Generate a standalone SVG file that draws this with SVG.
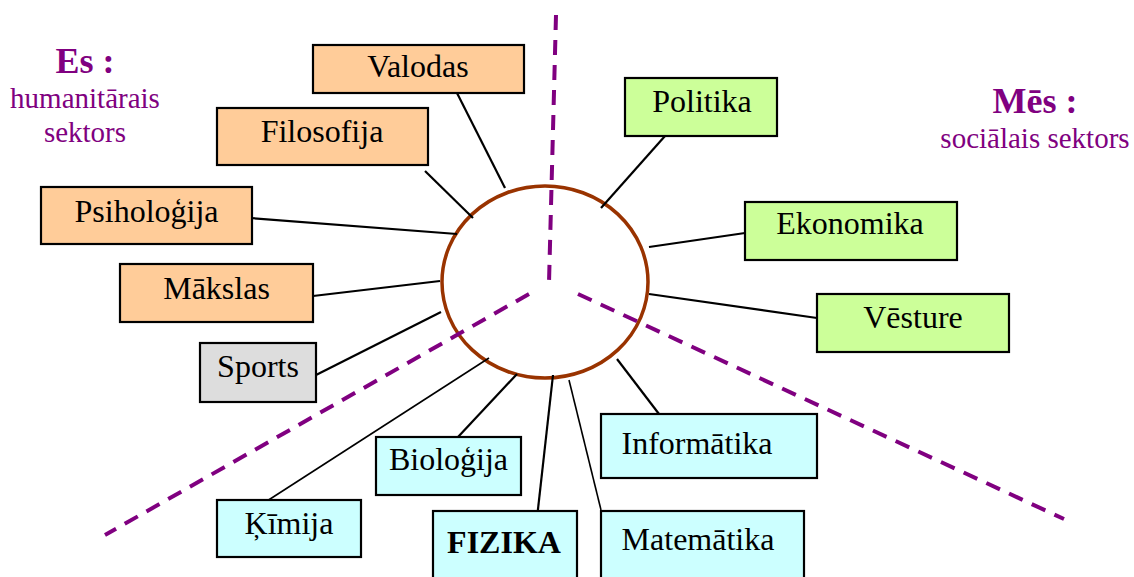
<svg xmlns="http://www.w3.org/2000/svg" width="1134" height="577" viewBox="0 0 1134 577">
<style>
.box{stroke:#000;stroke-width:2.2}
.o{fill:#FFCC99}.g{fill:#CCFF99}.c{fill:#CCFFFF}.s{fill:#DDDDDD}
.lbl{font-family:"Liberation Serif","Times New Roman",serif;font-size:32px;fill:#000;text-anchor:middle}
.b{font-weight:bold}
.ttl{font-family:"Liberation Serif","Times New Roman",serif;font-size:36px;font-weight:bold;fill:#800080;text-anchor:middle}
.sub{font-family:"Liberation Serif","Times New Roman",serif;font-size:29px;fill:#800080;text-anchor:middle}
.conn line{stroke:#000;stroke-width:2.2}
.dash line{stroke:#800080;stroke-width:4;stroke-dasharray:15 10;fill:none}
</style>
<rect width="1134" height="577" fill="#fff"/>
<g id="center">
<ellipse cx="545" cy="282" rx="103" ry="96" fill="none" stroke="#993300" stroke-width="3.5"/>
</g>
<g id="connectors" class="conn">
<line x1="457" y1="93" x2="505" y2="188"/>
<line x1="425" y1="171" x2="473" y2="218"/>
<line x1="250" y1="218" x2="457" y2="234"/>
<line x1="313" y1="296" x2="440" y2="281"/>
<line x1="316" y1="375" x2="441" y2="312"/>
<line x1="267" y1="501" x2="489" y2="358" style="stroke-width:1.6"/>
<line x1="458" y1="437" x2="517" y2="374"/>
<line x1="537" y1="518" x2="553" y2="375"/>
<line x1="601" y1="510" x2="569" y2="380" style="stroke-width:1.6"/>
<line x1="659" y1="414" x2="617" y2="359"/>
<line x1="673" y1="127" x2="601" y2="208"/>
<line x1="745" y1="233" x2="649" y2="247"/>
<line x1="817" y1="318" x2="649" y2="294"/>
</g>
<g id="dividers" class="dash">
<line x1="556" y1="15" x2="549" y2="283"/>
<line x1="529" y1="294" x2="105" y2="535"/>
<line x1="578" y1="294" x2="1064" y2="519"/>
</g>
<g id="title-es">
<text class="ttl" x="85" y="73">Es :</text>
<text class="sub" x="85" y="108">humanitārais</text>
<text class="sub" x="85" y="142">sektors</text>
</g>
<g id="title-mes">
<text class="ttl" x="1035" y="113">Mēs :</text>
<text class="sub" x="1035" y="148">sociālais sektors</text>
</g>
<g id="valodas"><rect class="box o" x="313" y="45" width="211" height="48"/><text class="lbl" x="418" y="77">Valodas</text></g>
<g id="filosofija"><rect class="box o" x="217" y="108" width="211" height="57"/><text class="lbl" x="322" y="142">Filosofija</text></g>
<g id="psihologija"><rect class="box o" x="41" y="187" width="211" height="57"/><text class="lbl" x="146.5" y="222">Psiholoģija</text></g>
<g id="makslas"><rect class="box o" x="120" y="264" width="193" height="58"/><text class="lbl" x="216.5" y="299">Mākslas</text></g>
<g id="sports"><rect class="box s" x="200" y="343" width="116" height="59"/><text class="lbl" x="258" y="377">Sports</text></g>
<g id="kimija"><rect class="box c" x="217" y="500" width="144" height="57"/><text class="lbl" x="289" y="534">Ķīmija</text></g>
<g id="biologija"><rect class="box c" x="376" y="437" width="145" height="58"/><text class="lbl" x="448.5" y="470">Bioloģija</text></g>
<g id="fizika"><rect class="box c" x="433" y="511" width="144" height="72"/><text class="lbl b" x="504" y="553">FIZIKA</text></g>
<g id="matematika"><rect class="box c" x="601" y="511" width="203" height="72"/><text class="lbl" x="698" y="550">Matemātika</text></g>
<g id="informatika"><rect class="box c" x="601" y="414" width="216" height="64"/><text class="lbl" x="697" y="454">Informātika</text></g>
<g id="politika"><rect class="box g" x="625" y="78" width="152" height="58"/><text class="lbl" x="702" y="112">Politika</text></g>
<g id="ekonomika"><rect class="box g" x="745" y="202" width="212" height="58"/><text class="lbl" x="850" y="234">Ekonomika</text></g>
<g id="vesture"><rect class="box g" x="817" y="294" width="192" height="58"/><text class="lbl" x="913" y="328">Vēsture</text></g>
</svg>
